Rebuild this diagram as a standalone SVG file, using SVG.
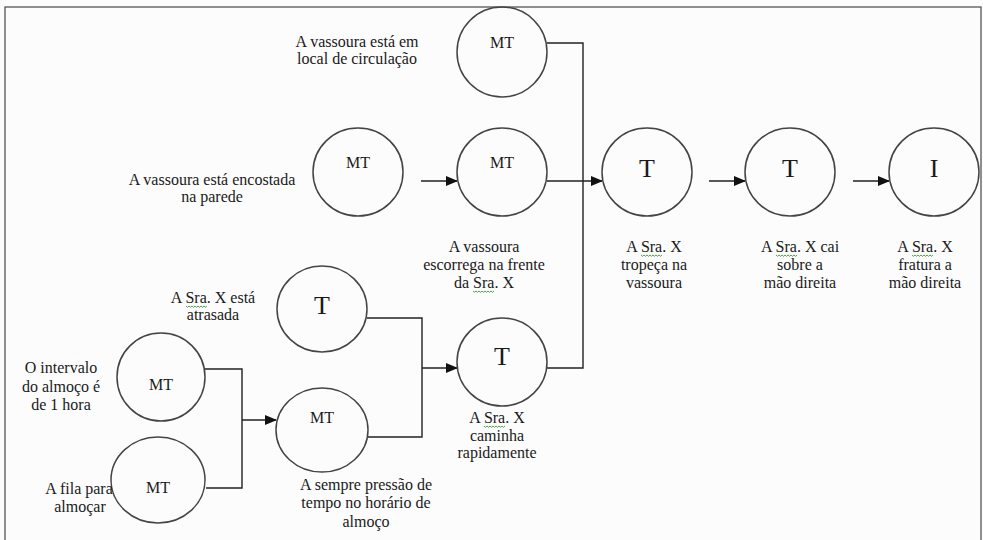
<svg xmlns="http://www.w3.org/2000/svg" width="983" height="540" viewBox="0 0 983 540">
<defs>
<style>
.c{fill:none;stroke:#444;stroke-width:1.5}
.l{fill:none;stroke:#222;stroke-width:1.4}
text{font-family:'Liberation Serif','DejaVu Serif','Times New Roman',serif;fill:#1a1a1a;text-anchor:middle}
.s{font-size:16px}
.mt{font-size:16px}
.big{font-size:26px}
.sq{fill:none;stroke:#3b9a3b;stroke-width:0.9}
</style>
<marker id="a" markerWidth="12" markerHeight="10" refX="11" refY="5" orient="auto" markerUnits="userSpaceOnUse">
<path d="M0,0 L12,5 L0,10 Z" fill="#111"/>
</marker>
<path id="sq" d="M0,0 l1.5,1.3 l1.5,-1.3 l1.5,1.3 l1.5,-1.3 l1.5,1.3 l1.5,-1.3 l1.5,1.3 l1.5,-1.3 l1.5,1.3 l1.5,-1.3 l1.5,1.3 l1.5,-1.3 l1.5,1.3 l1.5,-1.3"/>
</defs>
<rect x="0" y="0" width="983" height="540" fill="#fcfcfc"/>
<rect x="5" y="7" width="976" height="540" fill="none" stroke="#555" stroke-width="1.3"/>
<g id="connectors">
<polyline class="l" points="547,43 583,43 583,368 547,368"/>
<line class="l" x1="547" y1="181" x2="602" y2="181" marker-end="url(#a)"/>
<line class="l" x1="421" y1="181" x2="457" y2="181" marker-end="url(#a)"/>
<line class="l" x1="709" y1="181" x2="745" y2="181" marker-end="url(#a)"/>
<line class="l" x1="853" y1="181" x2="889" y2="181" marker-end="url(#a)"/>
<polyline class="l" points="205,369 242,369 242,488 206,488"/>
<line class="l" x1="242" y1="420" x2="276" y2="420" marker-end="url(#a)"/>
<polyline class="l" points="367,318 422,318 422,437 367,437"/>
<line class="l" x1="422" y1="368" x2="457" y2="368" marker-end="url(#a)"/>
</g>
<g id="n1"><ellipse class="c" cx="502" cy="52" rx="45" ry="45"/><text class="mt" x="502" y="48">MT</text>
<text class="s" x="357" y="47">A vassoura está em</text><text class="s" x="357" y="64">local de circulação</text></g>
<g id="n2"><ellipse class="c" cx="358" cy="172" rx="45" ry="44"/><text class="mt" x="358" y="168">MT</text>
<text class="s" x="212" y="185">A vassoura está encostada</text><text class="s" x="212" y="202">na parede</text></g>
<g id="n3"><ellipse class="c" cx="502" cy="172" rx="45" ry="44"/><text class="mt" x="502" y="168">MT</text>
<text class="s" x="484" y="252">A vassoura</text><text class="s" x="484" y="270">escorrega na frente</text><text class="s" x="484" y="288">da Sra. X</text></g>
<g id="n4"><ellipse class="c" cx="647" cy="172" rx="45" ry="44"/><text class="big" x="647" y="177">T</text>
<text class="s" x="654" y="252">A Sra. X</text><text class="s" x="654" y="270">tropeça na</text><text class="s" x="654" y="288">vassoura</text></g>
<g id="n5"><ellipse class="c" cx="790" cy="172" rx="45" ry="44"/><text class="big" x="790" y="177">T</text>
<text class="s" x="800" y="252">A Sra. X cai</text><text class="s" x="800" y="270">sobre a</text><text class="s" x="800" y="288">mão direita</text></g>
<g id="n6"><ellipse class="c" cx="934" cy="172" rx="45" ry="44"/><text class="big" x="934" y="177">I</text>
<text class="s" x="925" y="252">A Sra. X</text><text class="s" x="925" y="270">fratura a</text><text class="s" x="925" y="288">mão direita</text></g>
<g id="n7"><ellipse class="c" cx="322" cy="309" rx="45" ry="43"/><text class="big" x="322" y="314">T</text>
<text class="s" x="213" y="303">A Sra. X está</text><text class="s" x="213" y="320">atrasada</text></g>
<g id="n8"><ellipse class="c" cx="502" cy="362" rx="45" ry="44"/><text class="big" x="502" y="365">T</text>
<text class="s" x="497" y="423">A Sra. X</text><text class="s" x="497" y="441">caminha</text><text class="s" x="497" y="458">rapidamente</text></g>
<g id="n9"><ellipse class="c" cx="161" cy="377" rx="44" ry="44"/><text class="mt" x="161" y="390">MT</text>
<text class="s" x="61" y="373">O intervalo</text><text class="s" x="61" y="392">do almoço é</text><text class="s" x="61" y="410">de 1 hora</text></g>
<g id="n10"><ellipse class="c" cx="158" cy="480" rx="47" ry="43"/><text class="mt" x="158" y="493">MT</text>
<text class="s" x="79" y="494">A fila para</text><text class="s" x="80" y="512">almoçar</text></g>
<g id="n11"><ellipse class="c" cx="322" cy="430" rx="46" ry="42"/><text class="mt" x="322" y="423">MT</text>
<text class="s" x="366" y="490">A sempre pressão de</text><text class="s" x="366" y="508">tempo no horário de</text><text class="s" x="366" y="527">almoço</text></g>
<g id="spellmarks" class="sq">
<use href="#sq" x="473" y="291"/>
<use href="#sq" x="641" y="255"/>
<use href="#sq" x="776" y="255"/>
<use href="#sq" x="912" y="255"/>
<use href="#sq" x="186" y="306"/>
<use href="#sq" x="484" y="426"/>
</g>
</svg>
